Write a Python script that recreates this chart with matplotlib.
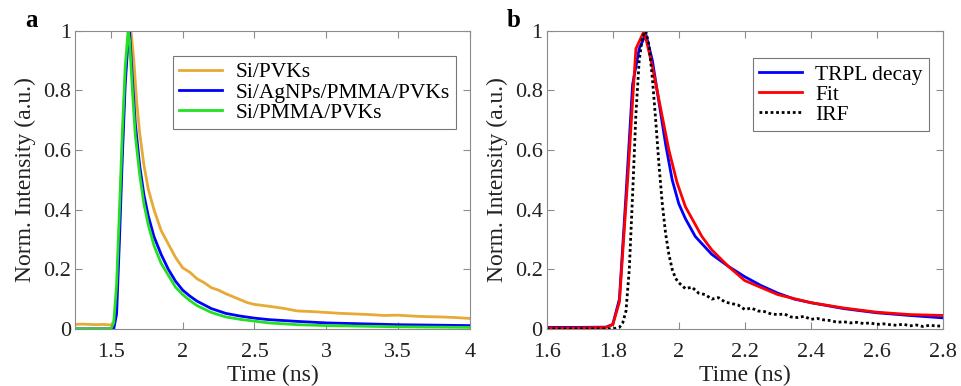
import matplotlib
matplotlib.use("Agg")
import matplotlib.pyplot as plt
from matplotlib import font_manager

fams = set(f.name for f in font_manager.fontManager.ttflist)
serif = 'Liberation Serif' if 'Liberation Serif' in fams else 'DejaVu Serif'
plt.rcParams['font.family'] = 'serif'
plt.rcParams['font.serif'] = [serif, 'DejaVu Serif']

# panel a : normalized TRPL of three samples
t_pvk = [1.25, 1.3, 1.4, 1.45, 1.5, 1.52, 1.54, 1.56, 1.58, 1.6, 1.62, 1.64, 1.66, 1.68, 1.7,
         1.73, 1.76, 1.8, 1.85, 1.9, 1.95, 2.0, 2.05, 2.1, 2.15, 2.2, 2.25, 2.3, 2.35, 2.4,
         2.45, 2.5, 2.6, 2.7, 2.8, 2.9, 3.0, 3.1, 3.2, 3.3, 3.4, 3.5, 3.6, 3.7, 3.8, 3.9, 4.0]
v_pvk = [0.015, 0.016, 0.014, 0.015, 0.013, 0.02, 0.1, 0.35, 0.62, 0.85, 0.97, 1.0, 0.9, 0.76, 0.66,
         0.55, 0.47, 0.4, 0.33, 0.285, 0.24, 0.205, 0.19, 0.168, 0.155, 0.138, 0.13, 0.118, 0.108, 0.098,
         0.088, 0.082, 0.076, 0.069, 0.06, 0.058, 0.055, 0.052, 0.05, 0.048, 0.045, 0.046, 0.043, 0.041,
         0.04, 0.038, 0.035]

t_ag = [1.25, 1.52, 1.54, 1.56, 1.58, 1.6, 1.62, 1.63, 1.65, 1.67, 1.7, 1.73, 1.76, 1.8, 1.85,
        1.9, 1.95, 2.0, 2.05, 2.1, 2.2, 2.3, 2.4, 2.5, 2.6, 2.8, 3.0, 3.5, 4.0]
v_ag = [0, 0, 0.05, 0.3, 0.58, 0.82, 0.97, 1.0, 0.84, 0.69, 0.55, 0.45, 0.38, 0.31, 0.25,
        0.2, 0.16, 0.13, 0.11, 0.093, 0.068, 0.052, 0.043, 0.036, 0.031, 0.025, 0.02, 0.014, 0.011]

t_pmma = [1.25, 1.5, 1.52, 1.54, 1.56, 1.58, 1.6, 1.62, 1.63, 1.65, 1.67, 1.7, 1.73, 1.76, 1.8,
          1.85, 1.9, 1.95, 2.0, 2.05, 2.1, 2.2, 2.3, 2.4, 2.5, 2.6, 2.8, 3.0, 3.5, 4.0]
v_pmma = [0, 0, 0.02, 0.15, 0.4, 0.66, 0.88, 1.0, 0.97, 0.8, 0.65, 0.52, 0.42, 0.35, 0.28,
          0.22, 0.18, 0.14, 0.115, 0.095, 0.078, 0.055, 0.04, 0.032, 0.026, 0.02, 0.014, 0.011, 0.007, 0.005]

# panel b : decay, fit and IRF
t_trpl = [1.6, 1.7, 1.78, 1.8, 1.82, 1.84, 1.86, 1.88, 1.9, 1.92, 1.94, 1.96, 1.98, 2.0, 2.02,
          2.05, 2.1, 2.15, 2.2, 2.25, 2.3, 2.35, 2.4, 2.5, 2.6, 2.7, 2.8]
v_trpl = [0.005, 0.005, 0.006, 0.015, 0.1, 0.45, 0.82, 0.94, 0.99, 0.9, 0.76, 0.62, 0.5, 0.42, 0.37,
          0.31, 0.25, 0.21, 0.175, 0.145, 0.12, 0.1, 0.088, 0.068, 0.054, 0.045, 0.037]

t_fit = [1.6, 1.7, 1.78, 1.8, 1.82, 1.845, 1.87, 1.895, 1.92, 1.945, 1.97, 1.995, 2.02, 2.045,
         2.07, 2.1, 2.15, 2.2, 2.3, 2.4, 2.5, 2.6, 2.7, 2.8]
v_fit = [0.003, 0.003, 0.005, 0.015, 0.09, 0.5, 0.94, 1.0, 0.88, 0.74, 0.6, 0.49, 0.41, 0.36,
         0.31, 0.265, 0.21, 0.162, 0.115, 0.088, 0.07, 0.056, 0.048, 0.045]

t_irf = [1.6, 1.7, 1.8, 1.82, 1.83, 1.84, 1.85, 1.86, 1.87, 1.88, 1.89, 1.9, 1.91, 1.92, 1.93,
         1.94, 1.95, 1.96, 1.97, 1.98, 1.99, 2.0, 2.02, 2.04, 2.06, 2.08, 2.1, 2.12, 2.14, 2.16,
         2.18, 2.2, 2.22, 2.24, 2.26, 2.28, 2.3, 2.32, 2.34, 2.36, 2.38, 2.4, 2.42, 2.44, 2.46,
         2.48, 2.5, 2.52, 2.54, 2.56, 2.58, 2.6, 2.62, 2.64, 2.66, 2.68, 2.7, 2.72, 2.74, 2.76,
         2.78, 2.8]
v_irf = [0, 0, 0, 0.005, 0.02, 0.06, 0.2, 0.45, 0.72, 0.9, 0.98, 1.0, 0.95, 0.84, 0.7,
         0.55, 0.42, 0.32, 0.25, 0.2, 0.17, 0.155, 0.135, 0.14, 0.12, 0.115, 0.1, 0.105, 0.09, 0.085,
         0.08, 0.065, 0.07, 0.06, 0.058, 0.05, 0.048, 0.05, 0.04, 0.038, 0.042, 0.032, 0.035, 0.03, 0.028,
         0.022, 0.024, 0.02, 0.022, 0.018, 0.02, 0.015, 0.017, 0.014, 0.012, 0.016, 0.01, 0.013, 0.008,
         0.012, 0.01, 0.009]

yticks = [0, 0.2, 0.4, 0.6, 0.8, 1]
yticklabels = ['0', '0.2', '0.4', '0.6', '0.8', '1']
xticks_a = [1.5, 2, 2.5, 3, 3.5, 4]
xticklabels_a = ['1.5', '2', '2.5', '3', '3.5', '4']
xticks_b = [1.6, 1.8, 2.0, 2.2, 2.4, 2.6, 2.8]
xticklabels_b = ['1.6', '1.8', '2', '2.2', '2.4', '2.6', '2.8']

FS = 16


def style(ax):
    for s in ax.spines.values():
        s.set_color('#8c8c8c')
        s.set_linewidth(0.8)
    ax.tick_params(direction='in', top=True, right=True, length=5, width=0.8,
                   color='#8c8c8c', labelsize=FS, labelcolor='#222222')
    ax.tick_params(axis='x', pad=10)
    ax.tick_params(axis='y', pad=3)
    ax.set_ylim(0, 1)
    ax.set_yticks(yticks)
    ax.set_yticklabels(yticklabels)
    ax.set_xlabel('Time (ns)', fontsize=FS + 1, color='#222222', labelpad=2)
    ax.set_ylabel('Norm. Intensity (a.u.)', fontsize=FS + 1, color='#222222', labelpad=5)


def legend(ax, anchor):
    leg = ax.legend(loc='upper right', bbox_to_anchor=anchor, fontsize=15.5, frameon=True,
                    fancybox=False, edgecolor='#555555', handlelength=2.0, borderpad=0.3,
                    labelspacing=0.0, handletextpad=0.6, borderaxespad=0)
    leg.get_frame().set_linewidth(0.8)
    return leg


fig = plt.figure(figsize=(9.61, 3.86), dpi=100)

ax1 = fig.add_axes([0.078, 0.148, 0.411, 0.772])
ax1.plot(t_pvk, v_pvk, color='#E6AA35', lw=2, label='Si/PVKs')
ax1.plot(t_ag, v_ag, color='#0000FF', lw=2, label='Si/AgNPs/PMMA/PVKs')
ax1.plot(t_pmma, v_pmma, color='#22E022', lw=2, label='Si/PMMA/PVKs')
ax1.set_xlim(1.25, 4)
ax1.set_xticks(xticks_a)
ax1.set_xticklabels(xticklabels_a)
style(ax1)
legend(ax1, (0.965, 0.916))

ax2 = fig.add_axes([0.569, 0.148, 0.412, 0.772])
ax2.plot(t_trpl, v_trpl, color='#0000FF', lw=2, label='TRPL decay')
ax2.plot(t_fit, v_fit, color='#FF0000', lw=2, label='Fit')
ax2.plot(t_irf, v_irf, color='black', lw=2, ls=(0, (1, 1)), label='IRF')
ax2.set_xlim(1.6, 2.8)
ax2.set_xticks(xticks_b)
ax2.set_xticklabels(xticklabels_b)
style(ax2)
legend(ax2, (0.965, 0.909))

fig.text(0.026, 0.93, 'a', fontsize=18, fontweight='bold')
fig.text(0.527, 0.93, 'b', fontsize=18, fontweight='bold')

fig.savefig('out.png', dpi=100)
